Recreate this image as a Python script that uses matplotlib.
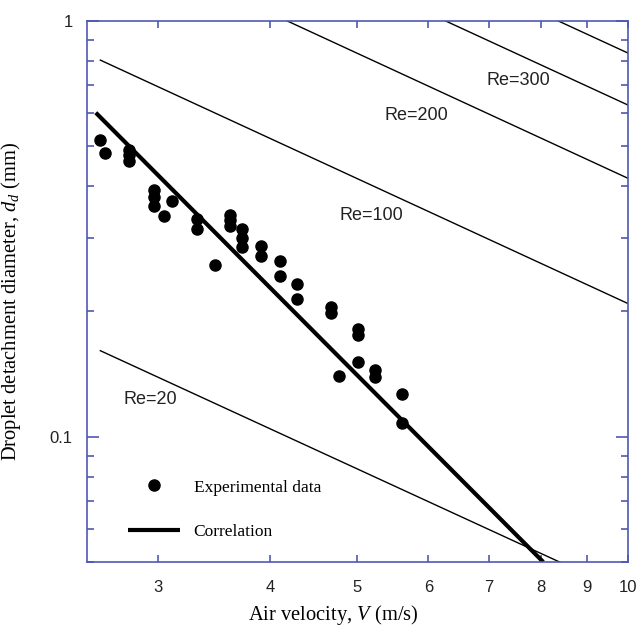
# Droplet detachment diameter vs air velocity, log-log with constant-Re lines

import matplotlib
matplotlib.use('Agg')
import matplotlib.pyplot as plt
from matplotlib.ticker import FixedLocator, NullFormatter, LogLocator

plt.rcParams['mathtext.fontset'] = 'custom'
plt.rcParams['mathtext.rm'] = 'Liberation Serif'
plt.rcParams['mathtext.it'] = 'Liberation Serif:italic'

exp_v = [2.59, 2.62, 2.79, 2.79, 2.79, 2.97, 2.97, 2.97, 3.11, 3.05,
         3.32, 3.32, 3.61, 3.61, 3.61, 3.72, 3.72, 3.72, 3.91, 3.91,
         3.47, 4.10, 4.10, 4.29, 4.29, 4.67, 4.67, 5.01, 5.01, 5.01,
         4.77, 5.23, 5.23, 5.60, 5.60]
exp_d = [0.517, 0.480, 0.489, 0.475, 0.460, 0.392, 0.377, 0.358, 0.369, 0.340,
         0.333, 0.316, 0.341, 0.332, 0.321, 0.316, 0.300, 0.286, 0.287, 0.272,
         0.259, 0.264, 0.244, 0.233, 0.214, 0.205, 0.198, 0.182, 0.176, 0.151,
         0.140, 0.145, 0.139, 0.127, 0.108]

# correlation line end points
corr_v = [2.56, 8.05]
corr_d = [0.601, 0.050]

# constant Reynolds number lines (end points)
re_values = [20, 100, 200, 300, 400]
re_v = [2.59, 10.0]
re_d_start = [0.161, 0.804, 1.61, 2.41, 3.21]
re_d_end = [0.042, 0.209, 0.418, 0.627, 0.836]

# label positions for the Re lines
re_labels = ['Re=20', 'Re=100', 'Re=200', 'Re=300']
re_label_v = [2.94, 5.19, 5.81, 7.55]
re_label_d = [0.123, 0.341, 0.593, 0.720]

axis_blue = '#4f57b5'

fig = plt.figure(figsize=(6.4, 6.27), dpi=100)
ax = fig.add_axes([0.1352, 0.1037, 0.846, 0.8633])

for i in range(len(re_values)):
    ax.plot(re_v, [re_d_start[i], re_d_end[i]], color='black', lw=1.0)
ax.plot(corr_v, corr_d, color='black', lw=3.0, solid_capstyle='butt', label='Correlation')
ax.plot(exp_v, exp_d, 'o', color='black', ms=8, label='Experimental data')

for lab, lv, ld in zip(re_labels, re_label_v, re_label_d):
    ax.text(lv, ld, lab, fontsize=13, family='Liberation Sans', color='#222222',
            ha='center', va='center')

ax.set_xscale('log')
ax.set_yscale('log')
ax.set_xlim(2.5, 10)
ax.set_ylim(0.05, 1)

xt = [3, 4, 5, 6, 7, 8, 9, 10]
ax.xaxis.set_major_locator(FixedLocator(xt))
ax.set_xticklabels([str(t) for t in xt])
ax.xaxis.set_minor_locator(FixedLocator([]))
ax.xaxis.set_minor_formatter(NullFormatter())
ax.yaxis.set_major_locator(FixedLocator([0.1, 1]))
ax.set_yticklabels(['0.1', '1'])
ax.yaxis.set_minor_locator(LogLocator(base=10, subs=range(2, 10)))
ax.yaxis.set_minor_formatter(NullFormatter())

for s in ax.spines.values():
    s.set_color(axis_blue)
    s.set_linewidth(1.2)
ax.tick_params(axis='both', which='both', direction='in', color=axis_blue,
               top=True, right=True, width=1.2, labelcolor='#222222', labelsize=12)
ax.tick_params(axis='x', which='major', length=5, pad=13)
ax.tick_params(axis='y', which='major', length=8.5, pad=10)
ax.tick_params(axis='y', which='minor', length=5)
for lab in ax.get_xticklabels() + ax.get_yticklabels():
    lab.set_family('Liberation Sans')

ax.set_xlabel('Air velocity, $\\mathit{V}$ (m/s)', family='Liberation Serif', fontsize=14.8)
ax.set_ylabel('Droplet detachment diameter, $\\mathit{d_d}$ (mm)', family='Liberation Serif',
              fontsize=14.8)
ax.xaxis.set_label_coords(0.455, -0.075)
ax.yaxis.set_label_coords(-0.118, 0.482)

h, l = ax.get_legend_handles_labels()
leg = ax.legend(h[::-1], l[::-1], loc='lower left', bbox_to_anchor=(0.06, 0.024),
                frameon=False, prop={'family': 'Liberation Serif', 'size': 12.5},
                handlelength=3.0, handletextpad=0.8, labelspacing=1.65, borderpad=0)

fig.savefig('out.png', dpi=100)
